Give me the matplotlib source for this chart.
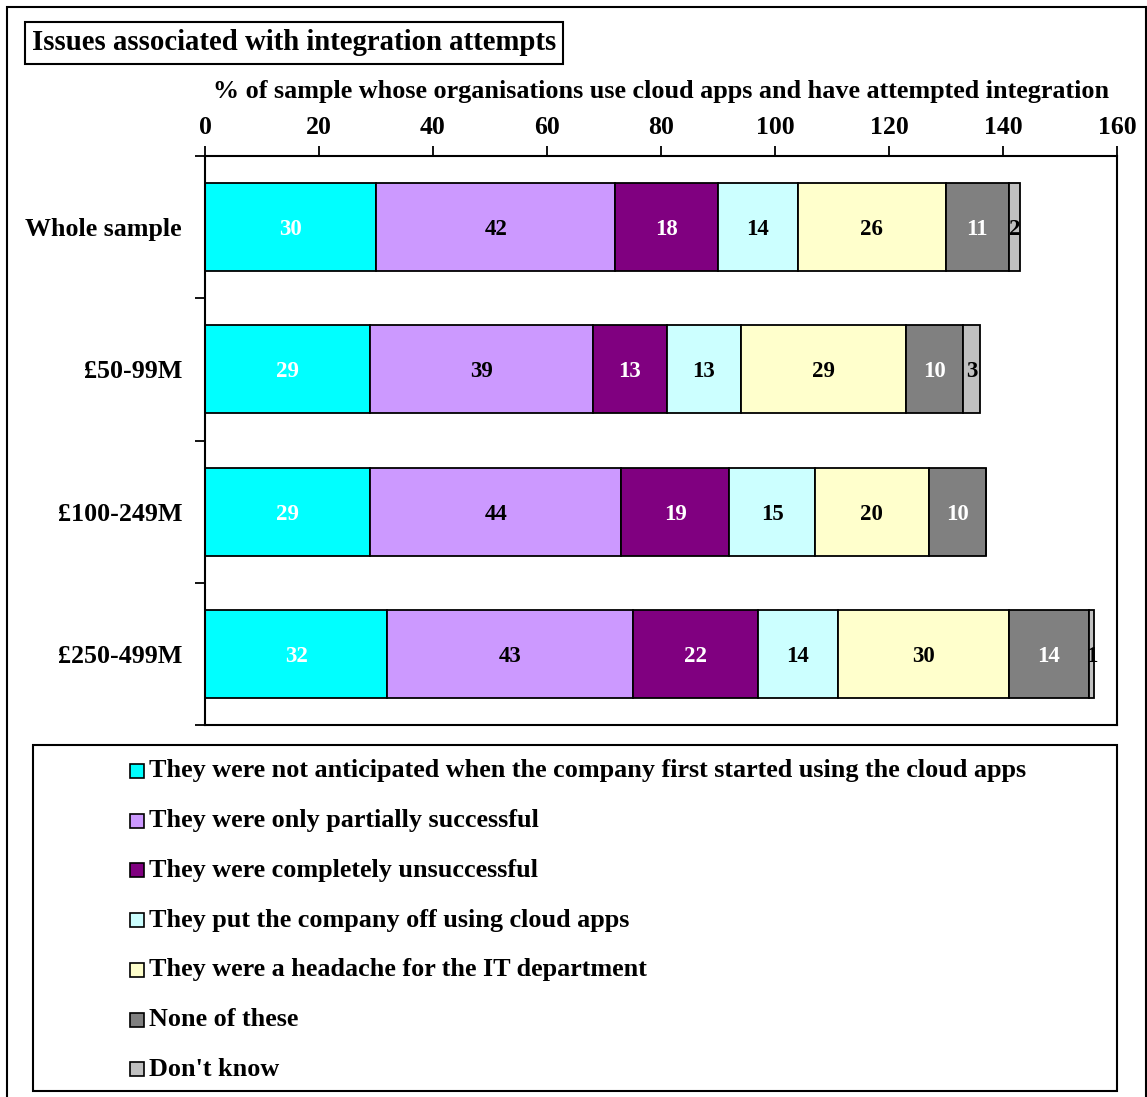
import matplotlib
matplotlib.use("Agg")
import matplotlib.pyplot as plt
from matplotlib.patches import Rectangle
import numpy as np

plt.rcParams['font.family'] = ['Liberation Serif', 'DejaVu Serif']
plt.rcParams['font.weight'] = 'bold'

categories = ["Whole sample", "£50-99M", "£100-249M", "£250-499M"]
series_names = [
    "They were not anticipated when the company first started using the cloud apps",
    "They were only partially successful",
    "They were completely unsuccessful",
    "They put the company off using cloud apps",
    "They were a headache for the IT department",
    "None of these",
    "Don't know",
]
values = [
    [30, 29, 29, 32],
    [42, 39, 44, 43],
    [18, 13, 19, 22],
    [14, 13, 15, 14],
    [26, 29, 20, 30],
    [11, 10, 10, 14],
    [2, 3, 0, 1],
]
colors = ["#00FFFF", "#CC99FF", "#800080", "#CCFFFF", "#FFFFCC", "#808080", "#C0C0C0"]
label_colors = ["white", "black", "white", "black", "black", "white", "black"]
xticks = [0, 20, 40, 60, 80, 100, 120, 140, 160]

W, H = 1147, 1097
fig = plt.figure(figsize=(W / 100, H / 100), dpi=100)

# outer chart border
fig.patches.append(Rectangle((7 / W, -0.01), (W - 8) / W, 1 - 7 / H + 0.01,
                             transform=fig.transFigure, fill=False,
                             edgecolor="black", linewidth=1.5))

ax = fig.add_axes([205 / W, 1 - 725 / H, (1117 - 205) / W, (725 - 156) / H])
y = np.arange(len(categories))
left = np.zeros(len(categories))
for vals, col, lc in zip(values, colors, label_colors):
    vals = np.array(vals, dtype=float)
    bars = ax.barh(y, vals, left=left, height=0.62, color=col,
                   edgecolor="black", linewidth=1.3)
    for b, v in zip(bars, vals):
        if v > 0:
            ax.text(b.get_x() + b.get_width() / 2, b.get_y() + b.get_height() / 2,
                    f"{int(v)}", ha="center", va="center_baseline", color=lc,
                    fontsize=16.5, fontweight="bold")
    left += vals

ax.set_xlim(0, 160)
ax.set_ylim(len(categories) - 0.5, -0.5)
ax.xaxis.tick_top()
ax.xaxis.set_label_position("top")
ax.set_xticks(xticks)
ax.set_xticklabels([str(t) for t in xticks], fontsize=18.5, fontweight="bold")
ax.set_xlabel("% of sample whose organisations use cloud apps and have attempted integration",
              fontsize=18.8, fontweight="bold", labelpad=13)
ax.set_yticks(y)
ax.set_yticklabels(categories, fontsize=18.7, fontweight="bold")
ax.set_yticks(np.arange(len(categories) + 1) - 0.5, minor=True)
ax.tick_params(axis="y", which="major", length=0, pad=16.5)
ax.tick_params(axis="y", which="minor", length=7, width=1.3, direction="out")
ax.tick_params(axis="x", which="major", length=7, width=1.3, direction="out", pad=5)
for s in ax.spines.values():
    s.set_linewidth(1.5)

# title box
fig.text(32 / W, 1 - 43 / H, "Issues associated with integration attempts",
         fontsize=20.7, fontweight="bold", ha="left", va="center",
         bbox=dict(boxstyle="square,pad=0.25", facecolor="white",
                   edgecolor="black", linewidth=1.5))

# legend
fig.patches.append(Rectangle((33 / W, 1 - 1091 / H), (1117 - 33) / W, (1091 - 745) / H,
                             transform=fig.transFigure, fill=False,
                             edgecolor="black", linewidth=1.5))
row0, step = 771, 49.7
for i, (name, col) in enumerate(zip(series_names, colors)):
    yc = row0 + i * step
    fig.patches.append(Rectangle((130 / W, 1 - (yc + 7) / H), 14 / W, 14 / H,
                                 transform=fig.transFigure, facecolor=col,
                                 edgecolor="black", linewidth=1.2))
    fig.text(149 / W, 1 - yc / H, name, fontsize=18.8, fontweight="bold",
             ha="left", va="center")

fig.savefig("out.png", dpi=100, facecolor="white")
